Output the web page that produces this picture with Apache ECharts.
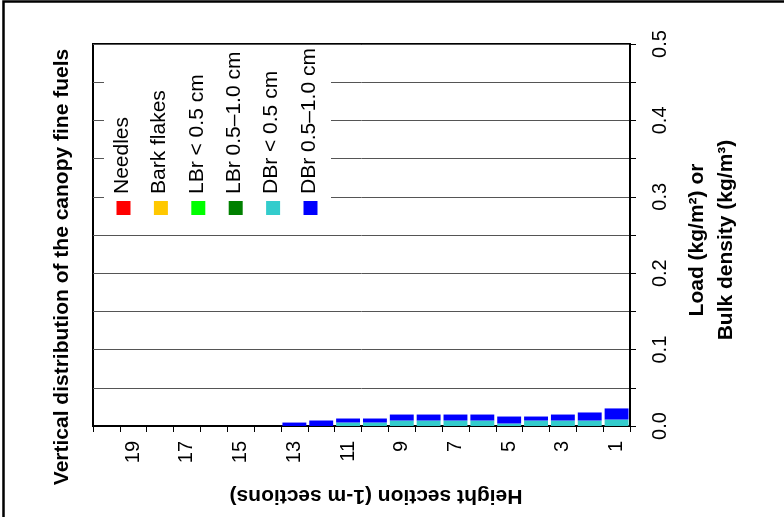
<!DOCTYPE html>
<html>
<head>
<meta charset="utf-8">
<title>Vertical distribution of the canopy fine fuels</title>
<script src="https://cdn.jsdelivr.net/npm/echarts@6/dist/echarts.min.js"></script>
<style>
  html, body { margin: 0; padding: 0; background: #fff; }
  #chart { width: 784px; height: 517px; }
</style>
</head>
<body>
<div id="chart"></div>
<script>
// Height sections (1 m each), from the ground up
const heights = ['1','2','3','4','5','6','7','8','9','10','11','12','13','14','15','16','17','18','19','20'];

// Fuel loads per section (kg/m2), one array per fuel class
const needles  = [0,0,0,0,0,0,0,0,0,0,0,0,0,0,0,0,0,0,0,0];
const bark     = [0,0,0,0,0,0,0,0,0,0,0,0,0,0,0,0,0,0,0,0];
const lbrSmall = [0,0,0,0,0,0,0,0,0,0,0,0,0,0,0,0,0,0,0,0];
const lbrLarge = [0,0,0,0,0,0,0,0,0,0,0,0,0,0,0,0,0,0,0,0];
const dbrSmall = [0.0085,0.0072,0.0072,0.0072,0.0033,0.0072,0.0072,0.0072,0.0072,0.0046,0.0046,0,0,0,0,0,0,0,0,0];
const dbrLarge = [0.0145,0.0105,0.0078,0.0052,0.0091,0.0078,0.0078,0.0078,0.0078,0.0052,0.0052,0.0072,0.0045,0,0,0,0,0,0,0];

const classNames = ['Needles', 'Bark flakes', 'LBr < 0.5 cm', 'LBr 0.5\u20131.0 cm', 'DBr < 0.5 cm', 'DBr 0.5\u20131.0 cm'];
const classData  = [needles, bark, lbrSmall, lbrLarge, dbrSmall, dbrLarge];
const classColors = ['#ff0000', '#ffc800', '#00ff00', '#008000', '#33cccc', '#0000ff'];

// Load axis ticks every 0.05, labelled every 0.1
const loadMin = 0, loadMax = 0.5, loadStep = 0.05;

const FONT = 'Liberation Sans, Arial, Helvetica, sans-serif';
const chart = echarts.init(document.getElementById('chart'), null, { renderer: 'canvas' });

const series = classNames.map((name, i) => ({
  name: name,
  type: 'bar',
  stack: 'fuel',
  data: classData[i],
  barCategoryGap: '11%',
  itemStyle: { color: classColors[i] },
  silent: true
}));

// Legend drawn as vertical text above colour swatches
const legendItems = [];
legendItems.push({
  type: 'rect', z: 50,
  shape: { x: 104, y: 50, width: 227, height: 172 },
  style: { fill: '#fff' }
});
classNames.forEach((name, i) => {
  const cx = 123.5 + i * 37.4;
  legendItems.push({
    type: 'rect', z: 51,
    shape: { x: cx - 7, y: 201, width: 14, height: 14 },
    style: { fill: classColors[i] }
  });
  legendItems.push({
    type: 'text', z: 51,
    x: cx - 1.5, y: 194, rotation: Math.PI / 2,
    style: { text: name, font: '21px ' + FONT, fill: '#000', textAlign: 'left', textVerticalAlign: 'middle' }
  });
});

const option = {
  backgroundColor: '#fff',
  animation: false,
  grid: {
    left: 93, right: 154, top: 44, bottom: 91,
    show: true, borderColor: '#000', borderWidth: 2, backgroundColor: 'transparent'
  },
  xAxis: {
    type: 'category',
    data: heights,
    inverse: true,
    boundaryGap: true,
    axisLine: { show: true, lineStyle: { color: '#000', width: 2 } },
    axisTick: { show: true, interval: 0, alignWithLabel: false, length: 6, lineStyle: { color: '#000', width: 1 } },
    axisLabel: { interval: 1, rotate: 90, margin: 15, fontSize: 20, fontFamily: FONT, color: '#000' },
    splitLine: { show: false }
  },
  yAxis: {
    type: 'value',
    position: 'right',
    min: loadMin, max: loadMax, interval: loadStep,
    axisLine: { show: true, lineStyle: { color: '#000', width: 2 } },
    axisTick: { show: true, length: 6, lineStyle: { color: '#000', width: 1 } },
    axisLabel: {
      rotate: 90, margin: 20, fontSize: 20, fontFamily: FONT, color: '#000',
      formatter: v => (Math.round(v / loadStep) % 2 === 0 ? v.toFixed(1) : '')
    },
    splitLine: { show: true, lineStyle: { color: '#555', width: 1 } }
  },
  series: series,
  graphic: [
    // outer frame
    { type: 'polyline', z: 10, shape: { points: [[3.5, 517], [3.5, 1.5], [784, 1.5]] }, style: { stroke: '#000', lineWidth: 2.5, fill: null } },
    // chart title
    { type: 'text', z: 10, x: 62, y: 267, rotation: Math.PI / 2,
      style: { text: 'Vertical distribution of the canopy fine fuels', font: 'bold 21px ' + FONT, fill: '#000', textAlign: 'center', textVerticalAlign: 'middle' } },
    // height axis title (upside down)
    { type: 'text', z: 10, x: 376, y: 496, rotation: Math.PI,
      style: { text: 'Height section (1-m sections)', font: 'bold 21px ' + FONT, fill: '#000', textAlign: 'center', textVerticalAlign: 'middle' } },
    // load axis title, two lines
    { type: 'text', z: 10, x: 697, y: 240, rotation: Math.PI / 2,
      style: { text: 'Load (kg/m\u00b2) or', font: 'bold 21px ' + FONT, fill: '#000', textAlign: 'center', textVerticalAlign: 'middle' } },
    { type: 'text', z: 10, x: 726, y: 240, rotation: Math.PI / 2,
      style: { text: 'Bulk density (kg/m\u00b3)', font: 'bold 21px ' + FONT, fill: '#000', textAlign: 'center', textVerticalAlign: 'middle' } }
  ].concat(legendItems)
};

chart.setOption(option);
</script>
</body>
</html>
